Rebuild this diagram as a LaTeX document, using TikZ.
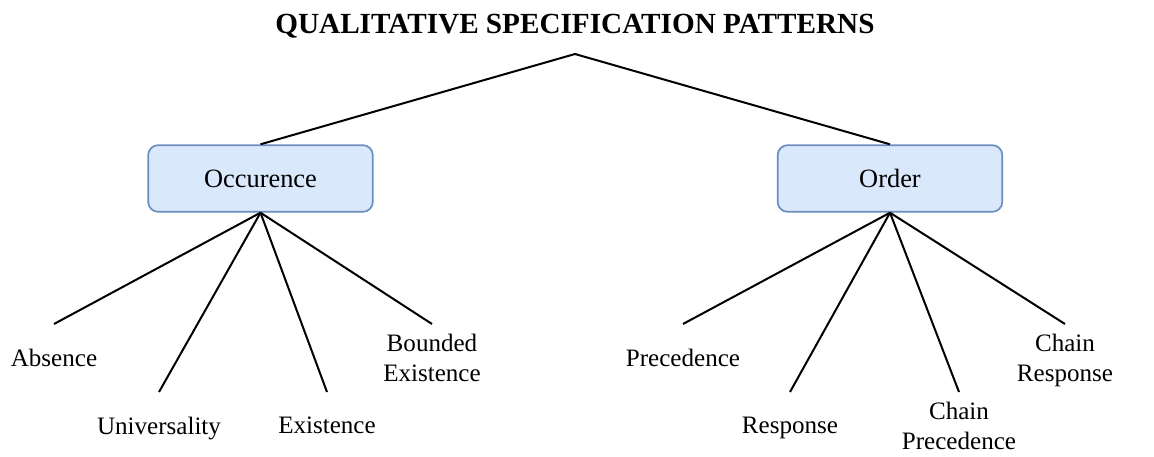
\documentclass[tikz,border=0pt]{standalone}
\usepackage{fontspec}
\setmainfont{Liberation Serif}
\definecolor{boxfill}{HTML}{DAE8FC}
\definecolor{boxline}{HTML}{6C8EBF}
\begin{document}
\begin{tikzpicture}[x=0.75pt,y=-0.75pt,
  catbox/.style={draw=boxline,fill=boxfill,line width=1.3pt,rounded corners=7.5pt,
    minimum width=168.5pt,minimum height=50pt,inner sep=0pt,
    font=\fontsize{19.8}{24}\selectfont},
  leafone/.style={anchor=north,inner xsep=0pt,inner ysep=18.8pt,align=center,
    font=\fontsize{18.8}{22.5}\selectfont},
  leaftwo/.style={anchor=north,inner xsep=0pt,inner ysep=7.5pt,align=center,
    font=\fontsize{18.8}{22.5}\selectfont},
  link/.style={line width=1.5pt,black}]
\useasboundingbox (0,0) rectangle (1154,457);
\node[font=\bfseries\fontsize{21.9}{24}\selectfont,inner sep=0pt,anchor=base] (title) at (575,33) {QUALITATIVE SPECIFICATION PATTERNS};
\coordinate (top) at (575,54);
\node[catbox] (occ) at (260.5,178.5) {Occurence};
\node[catbox] (ord) at (890,178.5) {Order};
\node[leafone] (abs) at (54,324) {Absence};
\node[leafone] (uni) at (159,392) {Universality};
\node[leafone] (exi) at (327,392) {Existence};
\node[leaftwo] (bex) at (432,324) {Bounded\\Existence};
\node[leafone] (pre) at (683,324) {Precedence};
\node[leafone] (res) at (790,392) {Response};
\node[leaftwo] (cpr) at (959,392) {Chain\\Precedence};
\node[leaftwo] (cre) at (1065,324) {Chain\\Response};
\draw[link] (top) -- (occ.north);
\draw[link] (top) -- (ord.north);
\foreach \t in {abs,uni,exi,bex} \draw[link] (occ.south) -- (\t.north);
\foreach \t in {pre,res,cpr,cre} \draw[link] (ord.south) -- (\t.north);
\end{tikzpicture}
\end{document}
